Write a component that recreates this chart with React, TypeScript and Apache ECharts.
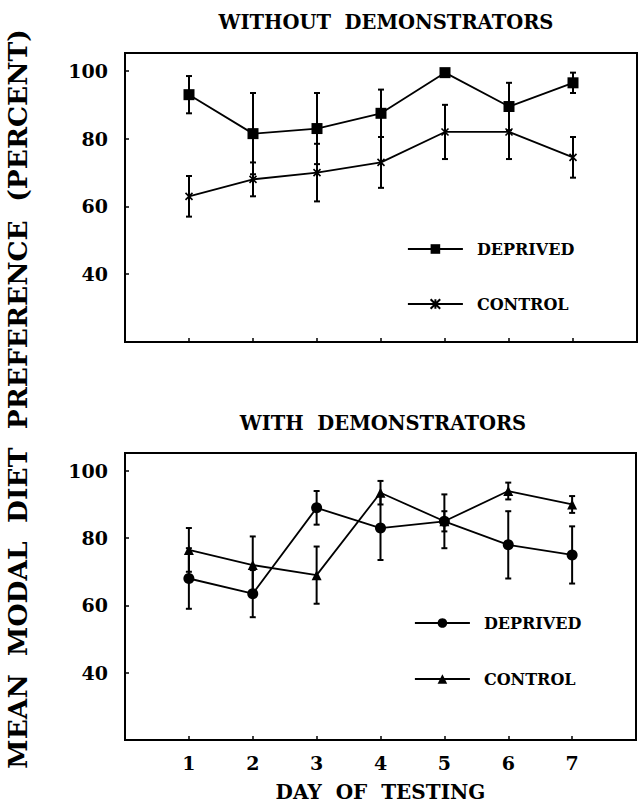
import React, { useEffect, useRef } from 'react';
import * as echarts from 'echarts';

const days = [1, 2, 3, 4, 5, 6, 7];
const dayTickLabels = ['1', '2', '3', '4', '5', '6', '7'];
const yTickLabels = [40, 60, 80, 100];

// Panel 1: without demonstrators
const topDeprivedMean = [93, 81.5, 83, 87.5, 99.5, 89.5, 96.5];
const topDeprivedErr = [5.5, 12, 10.5, 7, 1, 7, 3];
const topControlMean = [63, 68, 70, 73, 82, 82, 74.5];
const topControlErr = [6, 5, 8.5, 7.5, 8, 8, 6];

// Panel 2: with demonstrators
const bottomDeprivedMean = [68, 63.5, 89, 83, 85, 78, 75];
const bottomDeprivedErr = [9, 7, 5, 9.5, 8, 10, 8.5];
const bottomControlMean = [76.5, 72, 69, 93.5, 85, 94, 90];
const bottomControlErr = [6.5, 8.5, 8.5, 3.5, 3, 2.5, 2.5];

const FONT = 'DejaVu Serif';
const crossPath = 'path://M0 0L10 10M10 0L0 10M5 0L5 10';

function errSeries(mean: number[], err: number[], gi: number) {
  return {
    type: 'custom',
    xAxisIndex: gi,
    yAxisIndex: gi,
    silent: true,
    z: 1,
    data: days.map((d, i) => [d, mean[i] - err[i], mean[i] + err[i]]),
    renderItem: (params: any, api: any) => {
      const x = api.value(0);
      const lo = api.coord([x, api.value(1)]);
      const hi = api.coord([x, api.value(2)]);
      const w = 3;
      const st = { stroke: '#000', lineWidth: 2 };
      return {
        type: 'group',
        children: [
          { type: 'line', shape: { x1: lo[0], y1: lo[1], x2: hi[0], y2: hi[1] }, style: st },
          { type: 'line', shape: { x1: lo[0] - w, y1: lo[1], x2: lo[0] + w, y2: lo[1] }, style: st },
          { type: 'line', shape: { x1: hi[0] - w, y1: hi[1], x2: hi[0] + w, y2: hi[1] }, style: st },
        ],
      };
    },
  };
}

function lineSeries(name: string, mean: number[], gi: number, symbol: string, size: number) {
  return {
    name,
    type: 'line',
    xAxisIndex: gi,
    yAxisIndex: gi,
    z: 3,
    data: days.map((d, i) => [d, mean[i]]),
    symbol,
    symbolSize: size,
    showSymbol: true,
    lineStyle: { color: '#000', width: 1.8 },
    itemStyle: { color: '#000', borderColor: '#000', borderWidth: symbol.startsWith('path') ? 1.6 : 0 },
  };
}

function xAxis(gi: number) {
  return {
    type: 'value',
    gridIndex: gi,
    min: 0,
    max: 8,
    interval: 1,
    axisLine: { show: true, lineStyle: { color: '#000', width: 2 } },
    axisTick: { show: true, inside: true, length: 4, lineStyle: { color: '#000', width: 1.5 } },
    splitLine: { show: false },
    axisLabel: {
      show: gi === 1,
      margin: 13,
      color: '#000',
      fontFamily: FONT,
      fontWeight: 'bold',
      fontSize: 19,
      formatter: (v: number) => (v >= 1 && v <= 7 ? dayTickLabels[v - 1] : ''),
    },
    name: gi === 1 ? 'DAY  OF  TESTING' : '',
    nameLocation: 'middle',
    nameGap: 42,
    nameTextStyle: { color: '#000', fontFamily: FONT, fontWeight: 'bold', fontSize: 20 },
  };
}

function yAxis(gi: number) {
  return {
    type: 'value',
    gridIndex: gi,
    min: 20,
    max: 105.3,
    interval: 20,
    axisLine: { show: true, lineStyle: { color: '#000', width: 2 } },
    axisTick: { show: true, inside: true, length: 4, lineStyle: { color: '#000', width: 1.5 } },
    splitLine: { show: false },
    axisLabel: {
      margin: 17,
      color: '#000',
      fontFamily: FONT,
      fontWeight: 'bold',
      fontSize: 19,
      formatter: (v: number) => (yTickLabels.includes(v) ? String(v) : ''),
    },
  };
}

function legend(names: string[], left: number, top: number, gap: number) {
  return {
    data: names,
    orient: 'vertical',
    left,
    top,
    padding: 0,
    itemWidth: 55,
    itemHeight: 12,
    itemGap: gap,
    selectedMode: false,
    formatter: (n: string) => n.split('|')[0],
    lineStyle: { color: '#000', width: 1.8 },
    itemStyle: { color: '#000', borderColor: '#000' },
    textStyle: { color: '#000', fontFamily: FONT, fontWeight: 'bold', fontSize: 16, padding: [0, 0, 0, 9] },
  };
}

export default function App() {
  const ref = useRef<HTMLDivElement>(null);
  useEffect(() => {
    const chart = echarts.init(ref.current!, null, { renderer: 'svg' });
    chart.setOption({
      animation: false,
      backgroundColor: '#fff',
      grid: [
        { left: 125, right: 2, top: 53, height: 289, show: true, borderColor: '#000', borderWidth: 2 },
        { left: 125, right: 2, top: 453, height: 287, show: true, borderColor: '#000', borderWidth: 2 },
      ],
      xAxis: [xAxis(0), xAxis(1)],
      yAxis: [yAxis(0), yAxis(1)],
      legend: [
        legend(['DEPRIVED|top', 'CONTROL|top'], 407, 241, 39),
        legend(['DEPRIVED|bottom', 'CONTROL|bottom'], 414, 615, 40),
      ],
      graphic: [
        {
          type: 'text', x: 386, y: 22,
          style: { text: 'WITHOUT  DEMONSTRATORS', fill: '#000', font: `bold 19.5px "${FONT}"`, textAlign: 'center', textVerticalAlign: 'middle' },
        },
        {
          type: 'text', x: 383, y: 423,
          style: { text: 'WITH  DEMONSTRATORS', fill: '#000', font: `bold 19.5px "${FONT}"`, textAlign: 'center', textVerticalAlign: 'middle' },
        },
        {
          type: 'text', x: 17, y: 399, rotation: Math.PI / 2,
          style: { text: 'MEAN  MODAL  DIET  PREFERENCE  (PERCENT)', fill: '#000', font: `bold 26.5px "${FONT}"`, textAlign: 'center', textVerticalAlign: 'middle' },
        },
      ],
      series: [
        errSeries(topDeprivedMean, topDeprivedErr, 0),
        errSeries(topControlMean, topControlErr, 0),
        errSeries(bottomDeprivedMean, bottomDeprivedErr, 1),
        errSeries(bottomControlMean, bottomControlErr, 1),
        lineSeries('DEPRIVED|top', topDeprivedMean, 0, 'rect', 11),
        lineSeries('CONTROL|top', topControlMean, 0, crossPath, 7),
        lineSeries('DEPRIVED|bottom', bottomDeprivedMean, 1, 'circle', 11),
        lineSeries('CONTROL|bottom', bottomControlMean, 1, 'triangle', 10),
      ],
    });
    return () => chart.dispose();
  }, []);
  return <div ref={ref} style={{ position: 'fixed', left: 0, top: 0, width: 639, height: 805, background: '#fff' }} />;
}
